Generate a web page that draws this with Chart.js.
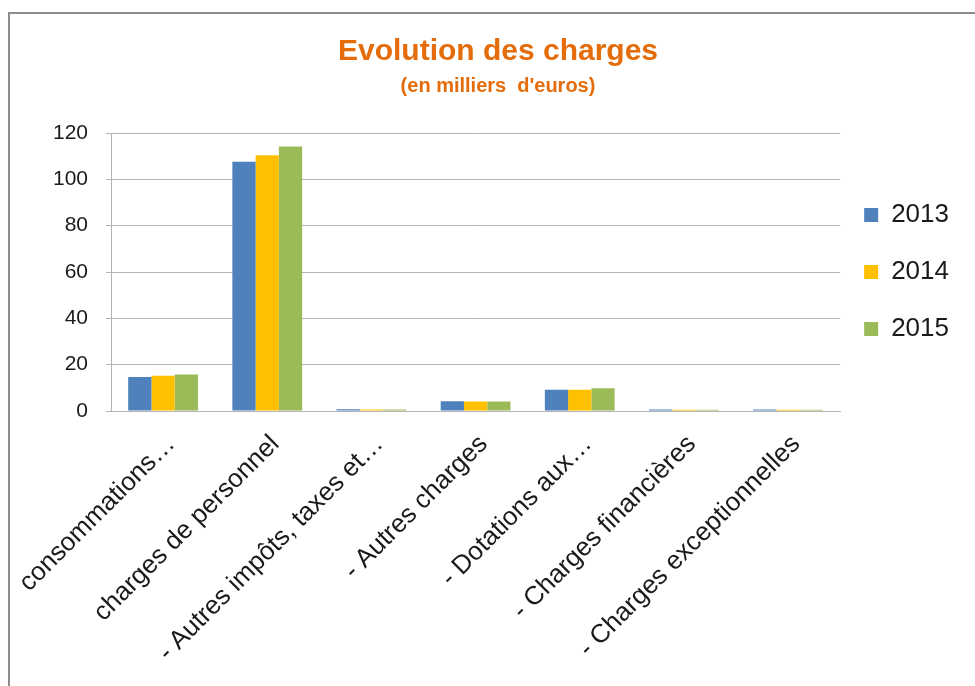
<!DOCTYPE html>
<html>
<head>
<meta charset="utf-8">
<script src="https://cdn.jsdelivr.net/npm/chart.js@4.4.1/dist/chart.umd.min.js"></script>
<style>
  html, body { margin:0; padding:0; background:#fff; overflow:hidden; }
  body { width:975px; height:686px; position:relative; }
  .frame { position:absolute; left:8px; top:12px; width:1200px; height:900px;
           border-left:2px solid #8c8c8c; border-top:2px solid #8c8c8c; }
  #wrap { position:absolute; left:0; top:0; width:966px; height:686px; }
</style>
</head>
<body>
<div class="frame"></div>
<div id="wrap"><canvas id="chart"></canvas></div>
<script>
const categories = [
  'consommations…',
  'charges de personnel',
  '- Autres impôts, taxes et…',
  '- Autres charges',
  '- Dotations aux…',
  '- Charges financières',
  '- Charges exceptionnelles'
];
const years = ['2013', '2014', '2015'];
const v2013 = [14.7, 107.6, 0.8, 4.2, 9.2, 0.6, 0.6];
const v2014 = [15.2, 110.4, 0.6, 4.1, 9.2, 0.5, 0.5];
const v2015 = [15.8, 114.2, 0.6, 4.1, 9.8, 0.5, 0.5];
const colors = ['#4f81bd', '#ffc000', '#9bbb59'];
const yTicks = [0, 20, 40, 60, 80, 100, 120];

const FONT = "'Liberation Sans', Arial, sans-serif";
const gridGray = '#b3b3b3';

// nudge the legend a bit to the left, like the original
const legendShift = {
  id: 'legendShift',
  afterLayout(chart) {
    const lg = chart.legend;
    if (!lg) return;
    lg.left -= 7;
    lg.right -= 7;
  }
};

const ctx = document.getElementById('chart').getContext('2d');
new Chart(ctx, {
  type: 'bar',
  data: {
    labels: categories,
    datasets: [v2013, v2014, v2015].map((d, i) => ({
      label: years[i],
      data: d,
      backgroundColor: colors[i],
      borderWidth: 0,
      barPercentage: 1,
      categoryPercentage: 0.67
    }))
  },
  options: {
    responsive: true,
    maintainAspectRatio: false,
    animation: false,
    layout: { padding: { top: 24, left: 30, right: 0, bottom: 0 } },
    scales: {
      x: {
        grid: { display: false },
        border: { display: true, color: gridGray },
        ticks: {
          color: '#1a1a1a',
          font: { family: FONT, size: 26 },
          maxRotation: 45, minRotation: 45,
          autoSkip: false,
          labelOffset: 8,
          padding: 10
        },
        afterFit: s => { s.height = 275; s.paddingLeft = 0; s.paddingRight = 0; }
      },
      y: {
        min: 0, max: 120,
        afterBuildTicks: s => { s.ticks = yTicks.map(v => ({ value: v })); },
        grid: { color: gridGray, tickLength: 5 },
        border: { color: gridGray },
        ticks: {
          color: '#1a1a1a',
          font: { family: FONT, size: 21 },
          padding: 18
        },
        afterFit: s => { s.width = 81; }
      }
    },
    plugins: {
      title: {
        display: true,
        text: 'Evolution des charges',
        color: '#e46c0a',
        font: { family: FONT, size: 30, weight: 'bold' },
        padding: { top: 9.5, bottom: 0 }
      },
      subtitle: {
        display: true,
        text: "(en milliers  d'euros)",
        color: '#e46c0a',
        font: { family: FONT, size: 20, weight: 'bold' },
        padding: { top: 5, bottom: 34.5 }
      },
      legend: {
        position: 'right',
        fullSize: false,
        labels: {
          color: '#1a1a1a',
          font: { family: FONT, size: 26 },
          boxWidth: 14, boxHeight: 14,
          padding: 31
        }
      },
      tooltip: { enabled: false }
    }
  },
  plugins: [legendShift]
});
</script>
</body>
</html>
